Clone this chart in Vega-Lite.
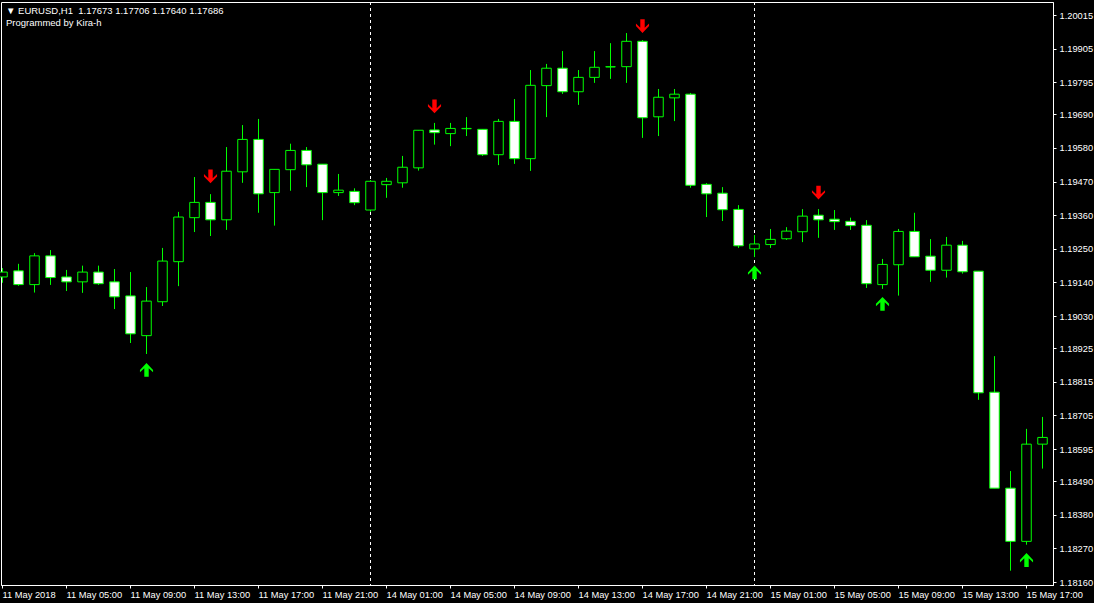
{
  "$schema": "https://vega.github.io/schema/vega-lite/v6.json",
  "autosize": {"type": "none"},
  "padding": {"left": 1, "top": 2, "right": 41, "bottom": 18},
  "width": 1052,
  "height": 583,
  "background": "black",
  "view": {"stroke": "white", "strokeWidth": 1, "fill": "black"},
  "title": {
    "text": "▼ EURUSD,H1\u00a0 1.17673 1.17706 1.17640 1.17686",
    "subtitle": "Programmed by Kira-h",
    "anchor": "start",
    "frame": "group",
    "orient": "top",
    "offset": -26,
    "dx": 5,
    "color": "white",
    "subtitleColor": "white",
    "font": "Liberation Sans",
    "subtitleFont": "Liberation Sans",
    "fontSize": 9.5,
    "subtitleFontSize": 9.5,
    "fontWeight": "normal",
    "subtitlePadding": 3
  },
  "datasets": {
    "candles": [
      {"i":0,"o":1.19158,"h":1.19187,"l":1.19139,"c":1.19174},
      {"i":1,"o":1.19178,"h":1.19201,"l":1.19129,"c":1.19133},
      {"i":2,"o":1.19133,"h":1.19236,"l":1.19107,"c":1.19227},
      {"i":3,"o":1.19227,"h":1.19246,"l":1.19132,"c":1.19156},
      {"i":4,"o":1.19158,"h":1.19181,"l":1.19112,"c":1.19142},
      {"i":5,"o":1.19142,"h":1.19195,"l":1.19106,"c":1.19174},
      {"i":6,"o":1.19174,"h":1.19195,"l":1.19132,"c":1.19136},
      {"i":7,"o":1.19142,"h":1.19184,"l":1.19053,"c":1.19093},
      {"i":8,"o":1.19096,"h":1.19174,"l":1.18942,"c":1.18972},
      {"i":9,"o":1.18966,"h":1.19125,"l":1.18906,"c":1.19079},
      {"i":10,"o":1.19077,"h":1.19253,"l":1.19063,"c":1.19210},
      {"i":11,"o":1.19208,"h":1.19371,"l":1.19128,"c":1.19354},
      {"i":12,"o":1.19352,"h":1.19485,"l":1.19305,"c":1.19402},
      {"i":13,"o":1.19402,"h":1.19429,"l":1.19292,"c":1.19345},
      {"i":14,"o":1.19345,"h":1.19583,"l":1.19312,"c":1.19504},
      {"i":15,"o":1.19502,"h":1.19655,"l":1.19466,"c":1.19608},
      {"i":16,"o":1.19608,"h":1.19675,"l":1.19368,"c":1.19430},
      {"i":17,"o":1.19434,"h":1.19510,"l":1.19326,"c":1.19510},
      {"i":18,"o":1.19509,"h":1.19594,"l":1.19440,"c":1.19572},
      {"i":19,"o":1.19572,"h":1.19583,"l":1.19452,"c":1.19525},
      {"i":20,"o":1.19527,"h":1.19527,"l":1.19344,"c":1.19434},
      {"i":21,"o":1.19434,"h":1.19495,"l":1.19423,"c":1.19442},
      {"i":22,"o":1.19438,"h":1.19448,"l":1.19393,"c":1.19401},
      {"i":23,"o":1.19377,"h":1.19475,"l":1.19371,"c":1.19471},
      {"i":24,"o":1.19460,"h":1.19482,"l":1.19417,"c":1.19471},
      {"i":25,"o":1.19466,"h":1.19554,"l":1.19450,"c":1.19517},
      {"i":26,"o":1.19515,"h":1.19638,"l":1.19506,"c":1.19638},
      {"i":27,"o":1.19639,"h":1.19662,"l":1.19591,"c":1.19630},
      {"i":28,"o":1.19627,"h":1.19662,"l":1.19586,"c":1.19644},
      {"i":29,"o":1.19643,"h":1.19681,"l":1.19619,"c":1.19644},
      {"i":30,"o":1.19641,"h":1.19641,"l":1.19554,"c":1.19558},
      {"i":31,"o":1.19558,"h":1.19675,"l":1.19524,"c":1.19667},
      {"i":32,"o":1.19667,"h":1.19740,"l":1.19528,"c":1.19545},
      {"i":33,"o":1.19545,"h":1.19835,"l":1.19505,"c":1.19785},
      {"i":34,"o":1.19784,"h":1.19855,"l":1.19681,"c":1.19841},
      {"i":35,"o":1.19841,"h":1.19897,"l":1.19757,"c":1.19764},
      {"i":36,"o":1.19764,"h":1.19835,"l":1.19721,"c":1.19811},
      {"i":37,"o":1.19811,"h":1.19897,"l":1.19793,"c":1.19844},
      {"i":38,"o":1.19845,"h":1.19923,"l":1.19806,"c":1.19846},
      {"i":39,"o":1.19846,"h":1.19956,"l":1.19793,"c":1.19929},
      {"i":40,"o":1.19929,"h":1.19933,"l":1.19613,"c":1.19679},
      {"i":41,"o":1.19682,"h":1.19773,"l":1.19619,"c":1.19746},
      {"i":42,"o":1.19744,"h":1.19773,"l":1.19668,"c":1.19756},
      {"i":43,"o":1.19756,"h":1.19760,"l":1.19450,"c":1.19458},
      {"i":44,"o":1.19461,"h":1.19465,"l":1.19354,"c":1.19430},
      {"i":45,"o":1.19432,"h":1.19452,"l":1.19341,"c":1.19378},
      {"i":46,"o":1.19379,"h":1.19393,"l":1.19253,"c":1.19260},
      {"i":47,"o":1.19250,"h":1.19295,"l":1.19223,"c":1.19266},
      {"i":48,"o":1.19264,"h":1.19315,"l":1.19253,"c":1.19281},
      {"i":49,"o":1.19283,"h":1.19321,"l":1.19279,"c":1.19308},
      {"i":50,"o":1.19306,"h":1.19380,"l":1.19272,"c":1.19357},
      {"i":51,"o":1.19360,"h":1.19380,"l":1.19286,"c":1.19345},
      {"i":52,"o":1.19347,"h":1.19377,"l":1.19312,"c":1.19339},
      {"i":53,"o":1.19340,"h":1.19352,"l":1.19312,"c":1.19326},
      {"i":54,"o":1.19327,"h":1.19344,"l":1.19122,"c":1.19136},
      {"i":55,"o":1.19133,"h":1.19217,"l":1.19119,"c":1.19199},
      {"i":56,"o":1.19198,"h":1.19315,"l":1.19097,"c":1.19307},
      {"i":57,"o":1.19307,"h":1.19368,"l":1.19224,"c":1.19224},
      {"i":58,"o":1.19226,"h":1.19282,"l":1.19142,"c":1.19180},
      {"i":59,"o":1.19180,"h":1.19289,"l":1.19156,"c":1.19262},
      {"i":60,"o":1.19262,"h":1.19276,"l":1.19169,"c":1.19175},
      {"i":61,"o":1.19177,"h":1.19177,"l":1.18756,"c":1.18779},
      {"i":62,"o":1.18781,"h":1.18899,"l":1.18467,"c":1.18467},
      {"i":63,"o":1.18467,"h":1.18523,"l":1.18197,"c":1.18293},
      {"i":64,"o":1.18293,"h":1.18661,"l":1.18282,"c":1.18611},
      {"i":65,"o":1.18611,"h":1.18700,"l":1.18531,"c":1.18633}
    ],
    "separators": [{"i": 23}, {"i": 47}],
    "arrows": [
      {"i": 9, "p": 1.18854, "dir": "up"},
      {"i": 13, "p": 1.19487, "dir": "down"},
      {"i": 27, "p": 1.19716, "dir": "down"},
      {"i": 40, "p": 1.19979, "dir": "down"},
      {"i": 47, "p": 1.19173, "dir": "up"},
      {"i": 51, "p": 1.19434, "dir": "down"},
      {"i": 55, "p": 1.19070, "dir": "up"},
      {"i": 64, "p": 1.18232, "dir": "up"}
    ]
  },
  "encoding": {
    "x": {
      "field": "i",
      "type": "quantitative",
      "scale": {"domain": [-0.0625, 65.6875], "nice": false, "zero": false, "padding": 0},
      "axis": {
        "values": [0, 4, 8, 12, 16, 20, 24, 28, 32, 36, 40, 44, 48, 52, 56, 60, 64],
        "labelExpr": "['11 May 2018','11 May 05:00','11 May 09:00','11 May 13:00','11 May 17:00','11 May 21:00','14 May 01:00','14 May 05:00','14 May 09:00','14 May 13:00','14 May 17:00','14 May 21:00','15 May 01:00','15 May 05:00','15 May 09:00','15 May 13:00','15 May 17:00'][round(datum.value / 4)]",
        "labelAlign": "left",
        "labelColor": "white",
        "labelFont": "Liberation Sans",
        "labelFontSize": 9.3,
        "labelPadding": 2,
        "labelFlush": false,
        "labelOverlap": false,
        "labelBound": false,
        "tickSize": 3,
        "tickColor": "white",
        "domainColor": "white",
        "grid": false,
        "title": null
      }
    }
  },
  "layer": [
    {
      "data": {"name": "separators"},
      "mark": {"type": "rule", "color": "white", "strokeDash": [3, 3], "strokeWidth": 1, "xOffset": 0.5},
      "encoding": {}
    },
    {
      "data": {"name": "candles"},
      "mark": {"type": "rule", "color": "#00ff00", "strokeWidth": 1, "xOffset": 0.5},
      "encoding": {
        "y": {
          "field": "l", "type": "quantitative",
          "scale": {"domain": [1.181502, 1.200576], "nice": false, "zero": false},
          "axis": {
            "orient": "right",
            "values": [1.20015, 1.19905, 1.19795, 1.1969, 1.1958, 1.1947, 1.1936, 1.1925, 1.1914, 1.1903, 1.18925, 1.18815, 1.18705, 1.18595, 1.1849, 1.1838, 1.1827, 1.1816],
            "format": ".5f",
            "labelColor": "white",
            "labelFont": "Liberation Sans",
            "labelFontSize": 9.3,
            "labelPadding": 3,
            "labelFlush": false,
            "labelOverlap": false,
            "labelBound": false,
            "tickSize": 3,
            "tickColor": "white",
            "domainColor": "white",
            "grid": false,
            "title": null
          }
        },
        "y2": {"field": "h"}
      }
    },
    {
      "data": {"name": "candles"},
      "mark": {"type": "bar", "width": 9.5, "stroke": "#00ff00", "strokeWidth": 1, "xOffset": 0.5},
      "encoding": {
        "y": {
          "field": "o", "type": "quantitative",
          "scale": {"domain": [1.181502, 1.200576], "nice": false, "zero": false},
          "axis": {
            "orient": "right",
            "values": [1.20015, 1.19905, 1.19795, 1.1969, 1.1958, 1.1947, 1.1936, 1.1925, 1.1914, 1.1903, 1.18925, 1.18815, 1.18705, 1.18595, 1.1849, 1.1838, 1.1827, 1.1816],
            "format": ".5f",
            "labelColor": "white",
            "labelFont": "Liberation Sans",
            "labelFontSize": 9.3,
            "labelPadding": 3,
            "labelFlush": false,
            "labelOverlap": false,
            "labelBound": false,
            "tickSize": 3,
            "tickColor": "white",
            "domainColor": "white",
            "grid": false,
            "title": null
          }
        },
        "y2": {"field": "c"},
        "fill": {"condition": {"test": "datum.c < datum.o", "value": "white"}, "value": "black"}
      }
    },
    {
      "data": {"name": "arrows"},
      "mark": {"type": "point", "filled": true, "size": 190, "opacity": 1, "strokeWidth": 0, "xOffset": 0.5},
      "encoding": {
        "y": {
          "field": "p", "type": "quantitative",
          "scale": {"domain": [1.181502, 1.200576], "nice": false, "zero": false},
          "axis": {
            "orient": "right",
            "values": [1.20015, 1.19905, 1.19795, 1.1969, 1.1958, 1.1947, 1.1936, 1.1925, 1.1914, 1.1903, 1.18925, 1.18815, 1.18705, 1.18595, 1.1849, 1.1838, 1.1827, 1.1816],
            "format": ".5f",
            "labelColor": "white",
            "labelFont": "Liberation Sans",
            "labelFontSize": 9.3,
            "labelPadding": 3,
            "labelFlush": false,
            "labelOverlap": false,
            "labelBound": false,
            "tickSize": 3,
            "tickColor": "white",
            "domainColor": "white",
            "grid": false,
            "title": null
          }
        },
        "shape": {
          "field": "dir", "type": "nominal",
          "scale": {"domain": ["up", "down"], "range": ["M0,-1 L0.95,0 L0.95,0.35 L0.32,-0.25 L0.32,1 L-0.32,1 L-0.32,-0.25 L-0.95,0.35 L-0.95,0 Z", "M0,1 L0.95,0 L0.95,-0.35 L0.32,0.25 L0.32,-1 L-0.32,-1 L-0.32,0.25 L-0.95,-0.35 L-0.95,0 Z"]},
          "legend": null
        },
        "fill": {
          "field": "dir", "type": "nominal",
          "scale": {"domain": ["up", "down"], "range": ["#00ff00", "#ff0000"]},
          "legend": null
        }
      }
    }
  ]
}
